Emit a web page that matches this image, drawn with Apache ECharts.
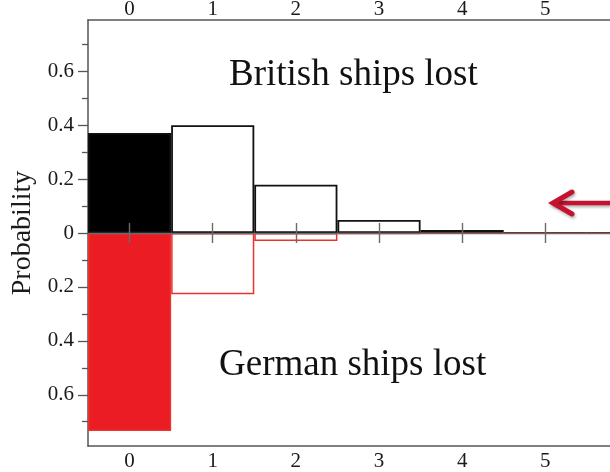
<!DOCTYPE html>
<html>
<head>
<meta charset="utf-8">
<script src="https://cdn.jsdelivr.net/npm/echarts@6/dist/echarts.min.js"></script>
<style>
  html, body { margin: 0; padding: 0; background: #fff; }
  #chart { width: 610px; height: 472px; }
</style>
</head>
<body>
<div id="chart"></div>
<script>
// Number of ships lost per side
const shipsLost = ['0', '1', '2', '3', '4', '5', '6'];
// Probability of each count
const britishProb = [0.371, 0.40, 0.179, 0.048, 0.011, 0.001, 0.001];
const germanProb = [0.734, 0.227, 0.030, 0.004, 0.001, 0.001, 0.001];
// Probability axis tick values (German side drawn downward)
const majorTicks = [-0.6, -0.4, -0.2, 0, 0.2, 0.4, 0.6];
const minorTicks = [-0.7, -0.5, -0.3, -0.1, 0.1, 0.3, 0.5, 0.7];
// half-length of the crossing ticks on the zero line, in probability units
const zeroTickHalf = 0.037;

const serif = '"Liberation Serif", "DejaVu Serif", serif';
const axisGray = '#555';
const textColor = '#1a1a1a';
const redFill = '#ec1c24';

const chart = echarts.init(document.getElementById('chart'), null, { renderer: 'canvas' });

function catAxis(extra) {
  return Object.assign({
    type: 'category',
    data: shipsLost,
    axisTick: { alignWithLabel: true, inside: true, length: 12, lineStyle: { color: axisGray, width: 1.3 } },
    axisLine: { onZero: false, lineStyle: { color: axisGray, width: 1.5 } },
    axisLabel: { fontFamily: serif, fontSize: 21, color: textColor, margin: 0 },
    splitLine: { show: false }
  }, extra);
}

// crossing ticks along the zero line, one per category
const zeroTicks = shipsLost.map(c => [
  { xAxis: c, yAxis: -zeroTickHalf },
  { xAxis: c, yAxis: zeroTickHalf }
]);

const option = {
  animation: false,
  backgroundColor: '#fff',
  grid: { left: 88, top: 20, bottom: 26, right: -60, containLabel: false, outerBoundsMode: 'none' },
  xAxis: [
    catAxis({ position: 'top' }),
    catAxis({ position: 'bottom', axisLabel: { fontFamily: serif, fontSize: 21, color: textColor, margin: 5 } })
  ],
  yAxis: [
    {
      type: 'value', min: -0.79, max: 0.79, position: 'left',
      name: 'Probability', nameLocation: 'middle', nameRotate: 90, nameGap: 48,
      nameTextStyle: { fontFamily: serif, fontSize: 28, color: textColor },
      axisLine: { show: true, lineStyle: { color: axisGray, width: 1.5 } },
      axisTick: { show: true, length: 10, customValues: majorTicks, lineStyle: { color: axisGray, width: 1.3 } },
      axisLabel: {
        customValues: majorTicks, fontFamily: serif, fontSize: 21, color: textColor, margin: 14,
        formatter: v => String(Math.round(Math.abs(v) * 10) / 10)
      },
      splitLine: { show: false }
    },
    {
      type: 'value', min: -0.79, max: 0.79, position: 'left',
      axisLine: { show: false },
      axisTick: { show: true, length: 6, customValues: minorTicks, lineStyle: { color: axisGray, width: 1.3 } },
      axisLabel: { show: false },
      splitLine: { show: false }
    }
  ],
  series: [
    {
      name: 'British ships lost', type: 'bar', xAxisIndex: 0, yAxisIndex: 0,
      barCategoryGap: '0%', barGap: '-100%',
      data: britishProb,
      itemStyle: {
        color: p => p.dataIndex === 0 ? '#000' : 'rgba(255,255,255,0)',
        borderColor: '#111', borderWidth: 1.8
      }
    },
    {
      name: 'German ships lost', type: 'bar', xAxisIndex: 0, yAxisIndex: 0,
      barCategoryGap: '0%', barGap: '-100%',
      data: germanProb.map(v => -v),
      itemStyle: {
        color: p => p.dataIndex === 0 ? redFill : 'rgba(255,255,255,0)',
        borderColor: '#e8332f', borderWidth: 1.5
      },
      markLine: {
        silent: true, symbol: 'none', z: 10, animation: false,
        label: { show: false },
        data: [
          [{ xAxis: shipsLost[0], yAxis: 0, x: 88 }, { xAxis: shipsLost[shipsLost.length - 1], yAxis: 0, x: 670 }],
          ...zeroTicks
        ],
        lineStyle: { color: '#6a6a6a', width: 1.4, type: 'solid' }
      }
    }
  ],
  graphic: [
    { type: 'text', left: 229, top: 57, style: { text: 'British ships lost', fontFamily: serif, fontSize: 37, fill: '#111' } },
    { type: 'text', left: 219, top: 347, style: { text: 'German ships lost', fontFamily: serif, fontSize: 37, fill: '#111' } },
    // pointer arrow
    {
      type: 'group', z: 20,
      children: [
        { type: 'line', shape: { x1: 553, y1: 203, x2: 620, y2: 203 },
          style: { stroke: '#c4122f', lineWidth: 4.5, shadowBlur: 3, shadowOffsetX: 1, shadowOffsetY: 2, shadowColor: 'rgba(0,0,0,0.3)' } },
        { type: 'polyline', shape: { points: [[572, 192], [553, 203], [572, 214]] },
          style: { stroke: '#c4122f', lineWidth: 5, lineCap: 'round', lineJoin: 'miter', fill: null, shadowBlur: 3, shadowOffsetX: 1, shadowOffsetY: 2, shadowColor: 'rgba(0,0,0,0.3)' } }
      ]
    }
  ]
};

chart.setOption(option);
</script>
</body>
</html>
